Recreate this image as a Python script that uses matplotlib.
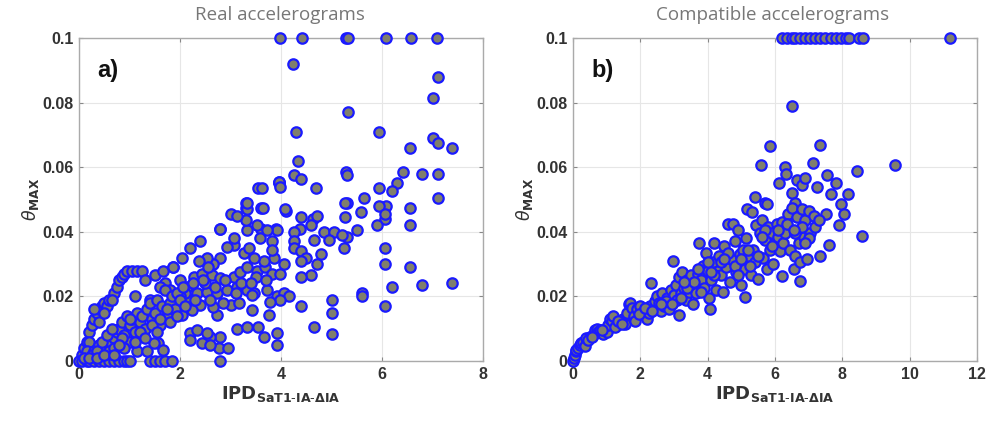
import matplotlib
matplotlib.use("Agg")
import matplotlib.pyplot as plt

# ---------------- data: panel a (real accelerograms) ----------------
real_x = [
    # top row / outliers
    3.99, 4.42, 5.28, 5.33, 6.08, 6.57, 7.08, 4.23, 7.10, 7.00, 5.32, 4.30, 5.95,
    7.00, 7.10, 7.38, 6.55, 4.34, 5.28, 5.30, 4.25, 4.40, 6.42, 6.80, 7.10, 3.96,
    3.97, 3.55, 4.70, 6.30, 5.95, 6.20, 5.65, 7.10, 5.30, 5.27, 3.30, 3.30, 3.60,
    4.10, 6.08, 5.95, 6.55, 5.58, 3.00, 4.40, 5.27, 4.63, 4.72, 6.05, 6.05, 5.90,
    6.55, 4.60, 2.80, 3.90, 3.60, 4.38, 4.25, 4.85, 5.50, 5.05, 5.30, 5.20, 4.95,
    4.65, 4.25, 4.25, 5.25, 6.05, 4.40, 4.80, 4.50, 4.40, 6.05, 4.72, 6.55, 4.60,
    4.40, 6.80, 7.38, 6.20, 5.60, 5.60, 5.00, 6.05, 4.40, 5.00, 4.65, 5.00,
    # mid region 2-4
    2.80, 2.78, 2.96, 2.80, 2.60, 2.43, 2.60, 2.19, 2.20, 2.33, 2.53, 3.13, 3.33,
    3.54, 3.66, 3.92, 3.92, 3.42, 3.76, 3.00, 3.16, 2.73, 2.66, 2.40, 2.23, 2.04,
    2.14, 2.33, 2.53, 2.73, 2.93, 3.13, 3.33, 3.46, 3.72, 3.92, 4.05, 4.15, 3.99,
    3.79, 3.42, 2.14, 2.27, 2.43, 2.63, 2.80, 3.06, 3.19, 3.33, 3.52, 3.69, 3.82,
    3.99, 4.05, 3.86, 3.66, 3.46, 3.26, 3.06, 2.93, 2.80, 2.66, 2.53, 2.37, 2.20,
    2.04, 1.87, 2.40, 3.36, 3.59, 3.82, 3.82, 3.92, 3.72, 3.52, 3.33, 3.30, 3.33,
    3.33, 3.06, 3.13, 2.80, 3.62, 3.64, 3.96, 3.99, 4.07, 2.50, 2.30, 2.90, 3.20,
    2.10, 2.60, 3.50, 2.70, 2.00, 2.45, 3.10, 2.85, 3.40, 3.70, 2.25, 2.55,
    # upper arm
    0.05, 0.10, 0.15, 0.20, 0.25, 0.30, 0.35, 0.40, 0.45, 0.50, 0.55, 0.60, 0.70,
    0.75, 0.80, 0.85, 0.90, 0.95, 1.05, 1.15, 1.25, 0.30, 0.40, 0.50, 0.65, 1.30,
    1.10, 0.20, 0.15, 1.50, 1.67, 1.87, 1.70, 1.80, 2.00, 1.40, 1.60,
    # bottom row
    0.00, 0.05, 0.15, 0.20, 0.30, 0.40, 0.50, 0.60, 0.70, 0.80, 0.90, 0.95, 1.00,
    1.40, 1.50, 1.60, 1.70, 1.85,
    # lower band
    0.30, 0.40, 0.50, 0.60, 0.70, 0.75, 0.80, 0.85, 0.90, 0.95, 1.00, 1.05, 1.10,
    1.15, 1.20, 1.25, 1.30, 1.35, 1.40, 1.45, 1.50, 1.55, 1.60, 1.65, 1.70, 1.75,
    1.80, 1.85, 1.90, 1.95, 2.00, 2.05, 2.10, 0.60, 0.70, 1.00, 1.14, 1.34, 1.57,
    1.67, 1.49, 0.25, 0.35, 0.45, 0.55, 0.65, 0.85, 1.00, 1.20, 1.45, 1.60, 1.75,
    0.10, 0.20, 0.35, 0.50, 0.90, 1.10, 1.30, 1.55, 1.80, 1.95, 0.70, 0.80,
]
real_y = [
    0.100, 0.100, 0.100, 0.100, 0.100, 0.100, 0.100, 0.092, 0.088, 0.0815, 0.077, 0.071, 0.071,
    0.069, 0.0675, 0.066, 0.066, 0.062, 0.0585, 0.0575, 0.0575, 0.0565, 0.0585, 0.058, 0.058, 0.055,
    0.0555, 0.0535, 0.0535, 0.055, 0.0535, 0.0525, 0.0505, 0.0505, 0.049, 0.049, 0.049, 0.0475, 0.0475,
    0.0465, 0.048, 0.048, 0.0475, 0.046, 0.0455, 0.0445, 0.0445, 0.044, 0.045, 0.044, 0.0455, 0.042,
    0.042, 0.042, 0.041, 0.041, 0.041, 0.041, 0.040, 0.040, 0.0405, 0.040, 0.0385, 0.039, 0.0375,
    0.0375, 0.037, 0.035, 0.035, 0.035, 0.034, 0.033, 0.032, 0.031, 0.030, 0.030, 0.029, 0.0265,
    0.026, 0.0235, 0.024, 0.023, 0.021, 0.020, 0.019, 0.017, 0.017, 0.015, 0.0105, 0.0085,
    0.000, 0.004, 0.004, 0.0075, 0.0075, 0.0055, 0.005, 0.0086, 0.0065, 0.0096, 0.0086, 0.010, 0.0106,
    0.0106, 0.0075, 0.0086, 0.005, 0.0158, 0.0143, 0.0174, 0.018, 0.0143, 0.0168, 0.0174, 0.0158, 0.0143,
    0.0194, 0.021, 0.0215, 0.021, 0.022, 0.023, 0.022, 0.021, 0.022, 0.020, 0.021, 0.020, 0.019,
    0.0184, 0.0204, 0.023, 0.026, 0.027, 0.0267, 0.0256, 0.026, 0.0277, 0.029, 0.028, 0.029, 0.027,
    0.027, 0.030, 0.032, 0.031, 0.032, 0.0334, 0.036, 0.0354, 0.032, 0.030, 0.032, 0.031, 0.035,
    0.032, 0.029, 0.037, 0.035, 0.038, 0.037, 0.0344, 0.0406, 0.0406, 0.042, 0.0406, 0.0437, 0.047,
    0.049, 0.038, 0.045, 0.041, 0.0535, 0.0475, 0.0555, 0.054, 0.047, 0.024, 0.019, 0.025, 0.024,
    0.021, 0.019, 0.026, 0.023, 0.020, 0.025, 0.021, 0.018, 0.024, 0.025, 0.024, 0.029,
    0.002, 0.004, 0.006, 0.009, 0.011, 0.013, 0.015, 0.016, 0.017, 0.018, 0.017, 0.019, 0.021,
    0.023, 0.025, 0.026, 0.027, 0.028, 0.028, 0.028, 0.028, 0.016, 0.012, 0.015, 0.019, 0.025,
    0.020, 0.006, 0.003, 0.0267, 0.028, 0.029, 0.024, 0.022, 0.025, 0.019, 0.023,
    0.0, 0.0, 0.0, 0.0, 0.0, 0.0, 0.0, 0.0, 0.0, 0.0, 0.0, 0.0, 0.0,
    0.0, 0.0, 0.0, 0.0, 0.0,
    0.003, 0.005, 0.004, 0.006, 0.007, 0.009, 0.010, 0.012, 0.008, 0.014, 0.011, 0.013, 0.009,
    0.015, 0.012, 0.014, 0.010, 0.016, 0.018, 0.013, 0.015, 0.019, 0.011, 0.017, 0.022, 0.014,
    0.018, 0.020, 0.016, 0.021, 0.019, 0.023, 0.017, 0.003, 0.004, 0.006, 0.003, 0.003, 0.0057,
    0.0034, 0.0057, 0.002, 0.003, 0.006, 0.008, 0.010, 0.007, 0.013, 0.009, 0.011, 0.013, 0.016,
    0.001, 0.001, 0.001, 0.002, 0.004, 0.006, 0.007, 0.009, 0.012, 0.014, 0.002, 0.005,
]

# ---------------- data: panel b (compatible accelerograms) ----------------
comp_x = [
    6.20, 6.35, 6.50, 6.60, 6.75, 6.90, 7.05, 7.20, 7.35, 7.50, 7.65, 7.80, 7.95,
    8.10, 8.20, 8.50, 8.60, 11.20,
    6.50, 5.84, 7.33, 9.57, 5.58, 7.12, 6.29, 6.32, 8.45, 7.55, 7.80, 6.12, 6.65,
    6.80, 6.90, 7.25, 6.50, 6.60, 7.66, 8.16, 7.96, 8.06, 7.51, 7.89, 8.58, 7.60,
    7.33, 6.73, 6.20, 5.41, 5.17, 5.32, 5.70, 5.76, 5.10, 4.08, 3.14, 2.97, 2.32,
    0.00, 0.03, 0.05, 0.08, 0.10, 0.15, 0.20, 0.25, 0.30, 0.35, 0.40, 0.50, 0.60,
    0.65, 0.70, 0.75, 0.80, 0.90, 1.00, 1.05, 1.10, 1.15, 1.20, 1.30, 1.40, 1.50,
    1.55, 1.60, 1.65, 1.70, 1.75, 1.80, 1.85, 1.90, 2.00, 2.05, 2.10, 2.20, 2.25,
    2.30, 2.40, 2.45, 2.50, 2.55, 2.60, 2.65, 2.70, 2.80, 2.85, 2.90, 3.00, 3.05,
    3.10, 3.15, 3.20, 3.25, 3.30, 3.35, 3.40, 3.45, 3.50, 3.55, 3.60, 3.65, 3.70,
    3.75, 3.80, 3.85, 3.90, 3.95, 4.00, 4.05, 4.10, 4.15, 4.20, 4.25, 4.30, 4.35,
    4.40, 4.45, 4.50, 4.55, 4.60, 4.65, 4.70, 4.75, 4.80, 4.85, 4.90, 4.95, 5.00,
    5.05, 5.10, 5.15, 5.20, 5.30, 5.35, 5.40, 5.45, 5.50, 5.55, 5.60, 5.65, 5.70,
    5.75, 5.80, 5.85, 5.90, 5.95, 6.00, 6.05, 6.10, 6.15, 6.20, 6.25, 6.30, 6.40,
    6.45, 6.50, 6.55, 6.60, 6.65, 6.70, 6.75, 6.80, 6.85, 6.90, 6.95, 7.00, 7.05,
    7.15, 7.20, 7.30, 7.00,
    0.45, 0.55, 0.85, 1.25, 1.35, 1.45, 1.95, 2.15, 2.35, 2.75, 2.95, 3.20, 3.40,
    3.60, 3.80, 4.00, 4.20, 4.40, 4.60, 4.80, 5.00, 5.20, 5.50, 5.70, 5.90, 6.10,
    6.35, 6.60, 6.80, 4.50, 4.90, 5.25, 5.60, 3.30, 3.70, 4.10, 2.60, 6.90, 6.55,
]
comp_y = [
    0.100, 0.100, 0.100, 0.100, 0.100, 0.100, 0.100, 0.100, 0.100, 0.100, 0.100, 0.100, 0.100,
    0.100, 0.100, 0.100, 0.100, 0.100,
    0.0788, 0.0665, 0.067, 0.0607, 0.0607, 0.0614, 0.0602, 0.058, 0.0587, 0.0577, 0.055, 0.055, 0.056,
    0.0546, 0.0566, 0.054, 0.052, 0.049, 0.0517, 0.0516, 0.0487, 0.0455, 0.0455, 0.042, 0.0386, 0.036,
    0.0326, 0.0248, 0.0263, 0.0509, 0.047, 0.046, 0.049, 0.0487, 0.0199, 0.016, 0.0143, 0.031, 0.024,
    0.000, 0.001, 0.002, 0.003, 0.0035, 0.004, 0.005, 0.0055, 0.006, 0.0045, 0.007, 0.0075, 0.008,
    0.0095, 0.010, 0.009, 0.0095, 0.0085, 0.009, 0.011, 0.013, 0.0125, 0.014, 0.011, 0.012, 0.013,
    0.0115, 0.015, 0.0175, 0.018, 0.0165, 0.014, 0.0125, 0.016, 0.017, 0.0145, 0.0155, 0.013, 0.015,
    0.017, 0.016, 0.0185, 0.020, 0.018, 0.0155, 0.021, 0.017, 0.0195, 0.016, 0.022, 0.0205, 0.0235,
    0.019, 0.026, 0.021, 0.0275, 0.0225, 0.019, 0.025, 0.0215, 0.0265, 0.0175, 0.0235, 0.021, 0.027,
    0.0365, 0.025, 0.0295, 0.0225, 0.0335, 0.028, 0.0195, 0.025, 0.0305, 0.0365, 0.022, 0.028, 0.0325,
    0.0265, 0.0215, 0.0355, 0.029, 0.0425, 0.0245, 0.0315, 0.0425, 0.037, 0.0275, 0.0405, 0.033, 0.0235,
    0.0345, 0.0285, 0.038, 0.0325, 0.0265, 0.0345, 0.0305, 0.042, 0.0255, 0.0395, 0.0435, 0.032, 0.0375,
    0.0285, 0.0415, 0.0345, 0.0395, 0.030, 0.0365, 0.0425, 0.0385, 0.034, 0.043, 0.0365, 0.0395, 0.0455,
    0.0345, 0.0475, 0.0285, 0.0325, 0.0445, 0.0365, 0.0305, 0.047, 0.0385, 0.0435, 0.0315, 0.0465, 0.0395,
    0.045, 0.0415, 0.0435, 0.038,
    0.0065, 0.0075, 0.0095, 0.0105, 0.0125, 0.0115, 0.0145, 0.0165, 0.0155, 0.0185, 0.0175, 0.0195, 0.0225,
    0.0245, 0.0215, 0.0305, 0.0265, 0.0305, 0.0335, 0.0295, 0.0315, 0.0345, 0.0325, 0.0405, 0.0355, 0.0405,
    0.0425, 0.0395, 0.0415, 0.0315, 0.0265, 0.0295, 0.0385, 0.0245, 0.0285, 0.0275, 0.0175, 0.0365, 0.0405,
]

titles = ["Real accelerograms", "Compatible accelerograms"]
panel_tags = ["a)", "b)"]
x_ticks = [[0, 2, 4, 6, 8], [0, 2, 4, 6, 8, 10, 12]]
y_ticks = [0, 0.02, 0.04, 0.06, 0.08, 0.1]
y_ticklabels = ["0", "0.02", "0.04", "0.06", "0.08", "0.1"]

W, H = 987, 424
fig = plt.figure(figsize=(W / 100, H / 100), dpi=100)

positions = [
    [79 / W, 1 - 361 / H, (483 - 79) / W, (361 - 38) / H],
    [573 / W, 1 - 361 / H, (977 - 573) / W, (361 - 38) / H],
]
datasets = [(real_x, real_y), (comp_x, comp_y)]
title_x = [280 / W, 773 / W]

tick_font = dict(family="Liberation Sans", weight="bold", size=11.5, color="#333333")

for i, (pos, (xs, ys)) in enumerate(zip(positions, datasets)):
    ax = fig.add_axes(pos)
    ax.scatter(xs, ys, s=56, facecolor="#807f6c", edgecolor="#1a1aff",
               linewidths=1.6, clip_on=False, zorder=3)
    ax.set_xlim(x_ticks[i][0], x_ticks[i][-1])
    ax.set_ylim(0, 0.1)
    ax.set_xticks(x_ticks[i])
    ax.set_yticks(y_ticks)
    ax.set_xticklabels([str(t) for t in x_ticks[i]], **tick_font)
    ax.set_yticklabels(y_ticklabels, **tick_font)
    ax.grid(True, color="#e6e6e6", linewidth=0.8, zorder=0)
    ax.set_axisbelow(True)
    for s in ax.spines.values():
        s.set_color("#aaaaaa")
        s.set_linewidth(1.0)
    ax.tick_params(direction="in", length=3, color="#888888", pad=4, top=True, right=True)
    ax.set_xlabel(r"IPD$_{\mathbf{SaT1\text{-}IA\text{-}\Delta IA}}$", fontsize=13,
                  fontweight="bold", color="#333333", family="DejaVu Sans", labelpad=2)
    ax.set_ylabel(r"$\theta_{\mathbf{MAX}}$", fontsize=12.5, color="#333333", labelpad=1)
    ax.text(0.045, 0.9, panel_tags[i], transform=ax.transAxes, fontsize=17,
            fontweight="bold", color="#111111", family="Liberation Sans", va="center")
    fig.text(title_x[i], 1 - 15 / H, titles[i], ha="center", va="center",
             fontsize=13.5, color="#777777", family="Open Sans")

fig.savefig("out.png", dpi=100)
